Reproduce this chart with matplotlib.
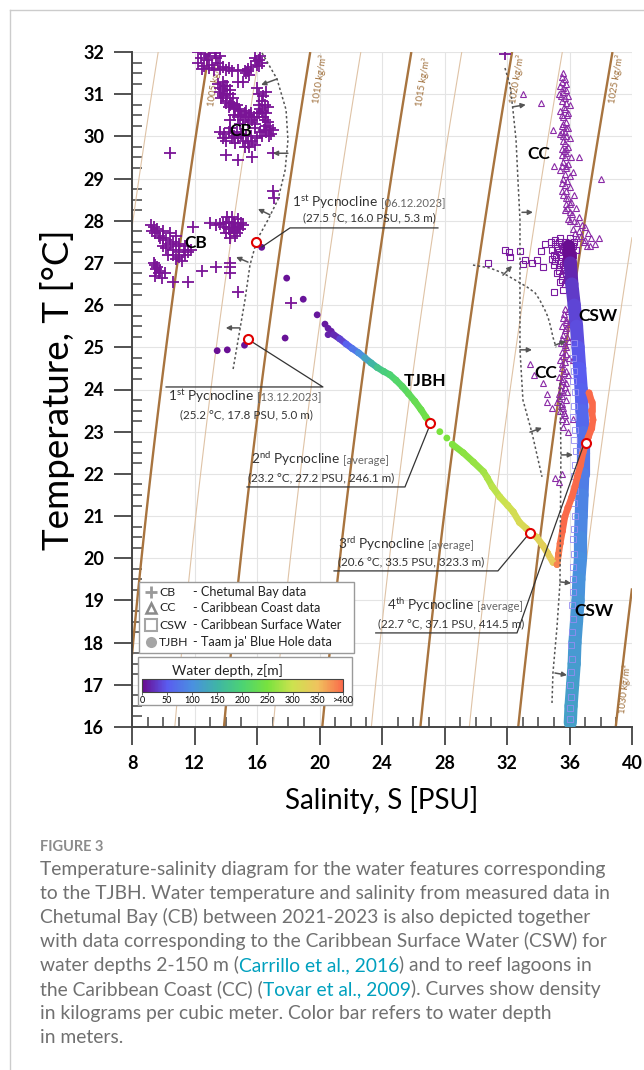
import numpy as np
import matplotlib
matplotlib.use('Agg')
import matplotlib.pyplot as plt
from matplotlib.colors import LinearSegmentedColormap, Normalize
from matplotlib.collections import LineCollection
from matplotlib.lines import Line2D
from matplotlib.patches import Rectangle
from matplotlib.cm import ScalarMappable

plt.rcParams['font.family'] = ['Lato', 'DejaVu Sans']
plt.rcParams['mathtext.fontset'] = 'custom'
plt.rcParams['mathtext.rm'] = 'Lato'
plt.rcParams['mathtext.it'] = 'Lato:italic'
plt.rcParams['mathtext.bf'] = 'Lato:bold'

# ---------------- data (salinity S [PSU], temperature T [degC], depth z [m]) ----------------
cb_upper = np.array([
    (12.2, 32.0), (12.7, 31.95), (13.3, 31.98), (13.6, 31.9), (12.25, 31.75), (12.6, 31.68),
    (12.5, 31.6), (12.9, 31.62), (13.25, 31.58), (13.6, 31.6), (14.0, 31.57), (14.4, 31.55),
    (14.8, 31.58), (15.2, 31.55), (15.4, 31.6), (15.6, 31.65), (15.3, 31.5),
    (15.9, 31.85), (16.1, 31.8), (16.2, 31.9), (16.0, 31.7), (16.3, 31.75),
    (12.4, 31.85), (12.8, 31.8), (13.1, 31.7), (13.5, 31.75), (13.85, 31.65), (14.2, 31.62),
    (12.95, 31.9), (13.4, 31.85), (15.45, 31.55), (15.5, 31.45), (15.95, 31.78), (16.15, 31.68),
    (14.8, 31.3), (15.1, 31.3), (16.0, 31.15),
    (13.5, 31.25), (13.8, 31.3), (14.1, 31.2), (13.6, 31.05), (13.9, 31.1), (14.3, 31.0),
    (13.7, 30.9), (14.0, 30.85), (14.4, 30.8), (14.7, 30.75), (14.2, 30.7), (13.8, 31.0),
    (13.65, 31.15), (13.95, 31.2), (14.25, 31.1), (13.8, 30.95), (14.1, 31.0), (14.45, 30.9),
    (14.0, 30.8), (14.3, 30.75), (14.55, 30.7), (14.85, 30.65),
    (14.6, 30.65), (14.9, 30.6), (15.2, 30.55), (15.5, 30.5), (14.8, 30.45), (15.1, 30.4),
    (15.4, 30.35), (15.7, 30.4), (16.0, 30.45), (15.9, 30.3), (15.3, 30.6),
    (15.0, 30.5), (15.3, 30.45), (15.6, 30.55), (15.8, 30.45), (14.9, 30.3), (14.3, 30.4),
    (14.5, 30.5), (15.85, 30.2),
    (16.3, 30.85), (16.5, 30.75), (16.2, 30.65), (16.6, 30.55), (16.4, 30.45), (16.7, 30.35),
    (16.8, 30.2), (16.6, 30.1), (16.9, 30.05), (17.0, 30.15), (16.4, 30.95),
    (16.1, 30.55), (16.35, 30.6), (16.5, 30.4), (16.6, 30.25), (16.45, 30.15), (16.75, 30.0),
    (16.2, 30.1), (16.1, 30.75), (16.7, 30.7), (16.55, 31.05), (16.1, 31.0),
    (13.6, 30.1), (13.9, 30.05), (14.2, 30.1), (14.5, 30.0), (14.8, 29.95), (15.1, 29.9),
    (15.4, 29.85), (15.7, 29.9), (16.0, 29.95), (16.3, 30.0), (14.0, 29.9), (14.6, 29.85),
    (15.9, 29.8), (14.3, 30.2), (15.0, 30.05), (15.3, 30.0), (15.6, 30.0), (14.7, 30.1),
    (14.4, 29.95), (13.8, 29.95), (15.5, 29.75), (15.2, 29.75),
    (10.4, 29.6), (14.0, 29.55), (14.8, 29.45), (15.7, 29.5), (17.0, 29.6), (17.0, 28.7),
    (17.1, 28.55), (31.9, 31.95),
])
cb_lower = np.array([
    (13.0, 27.95), (13.4, 27.9), (13.8, 27.95), (14.2, 27.98), (14.6, 27.9), (15.0, 27.95),
    (14.4, 28.1), (14.8, 28.05), (14.1, 28.1), (13.9, 27.85), (14.2, 27.8), (14.5, 27.75),
    (14.8, 27.85), (15.1, 27.9), (14.3, 27.6), (14.6, 27.65), (14.0, 27.7),
    (14.0, 27.95), (14.4, 27.85), (14.7, 27.7), (14.9, 27.8), (14.55, 27.95), (13.6, 27.92),
    (14.3, 27.7),
    (9.2, 27.9), (9.6, 27.8), (10.0, 27.75), (10.4, 27.7), (10.8, 27.65), (9.4, 27.85),
    (11.9, 27.85), (9.5, 27.7), (9.8, 27.6), (10.2, 27.55), (10.6, 27.5), (11.0, 27.45),
    (11.4, 27.4), (10.6, 27.3), (11.0, 27.25), (11.4, 27.2), (11.8, 27.3), (10.8, 27.1),
    (11.2, 27.05), (10.0, 27.4), (10.3, 27.2),
    (9.3, 27.75), (9.7, 27.65), (10.0, 27.6), (10.4, 27.45), (10.8, 27.4), (10.2, 27.35),
    (10.6, 27.2), (11.0, 27.15), (11.3, 27.3), (11.6, 27.25),
    (9.4, 27.0), (9.6, 26.9), (9.8, 26.8), (9.5, 26.7), (9.9, 26.65), (10.1, 26.75),
    (9.55, 26.85), (9.7, 26.75), (9.45, 26.95),
    (10.6, 26.55), (11.6, 26.55), (12.5, 26.8), (13.4, 26.9), (14.3, 27.0), (14.3, 26.9),
    (14.3, 26.75), (14.8, 26.3), (18.2, 26.05),
])
cc_upper = np.array([
    (35.6, 31.5), (35.5, 31.4), (35.7, 31.35), (35.4, 31.2), (35.8, 31.25), (35.6, 31.15),
    (35.3, 31.0), (35.6, 31.05), (35.9, 30.95), (35.5, 30.85), (35.8, 30.8), (36.0, 30.75),
    (35.4, 30.6), (35.7, 30.65), (35.9, 30.55), (35.6, 30.45), (35.8, 30.35),
    (35.5, 30.25), (35.9, 30.2), (35.7, 30.1), (35.6, 30.0), (36.0, 29.95), (35.4, 30.05),
    (35.7, 29.85), (35.9, 29.75), (35.5, 29.7), (35.5, 29.55), (35.8, 29.6), (36.1, 29.5),
    (35.6, 29.4), (35.9, 29.35), (35.4, 29.2), (35.8, 29.25), (36.2, 29.15), (35.6, 29.0),
    (36.0, 29.05), (35.7, 28.85), (36.0, 28.8), (35.5, 28.7), (35.6, 28.6), (35.9, 28.55),
    (36.3, 28.6), (35.8, 28.4), (36.1, 28.45), (35.7, 28.25), (36.0, 28.2), (36.4, 28.3),
    (35.9, 28.05), (36.3, 28.0), (36.6, 28.1), (36.8, 27.9), (37.0, 27.85), (36.2, 27.8),
    (36.6, 27.75), (37.2, 27.7), (36.5, 27.6), (37.0, 27.55), (37.4, 27.6), (37.6, 27.45),
    (37.3, 27.4),
    (35.55, 31.3), (35.75, 31.1), (35.45, 30.95), (35.7, 30.9), (35.65, 30.7), (35.5, 30.5),
    (35.85, 30.5), (35.6, 30.3), (35.75, 30.2), (35.5, 30.1), (35.8, 30.0), (35.6, 29.9),
    (35.8, 29.7), (35.65, 29.65), (35.7, 29.5), (35.75, 29.3), (35.55, 29.3), (35.7, 29.1),
    (35.85, 28.95), (35.55, 28.9), (35.8, 28.7), (35.75, 28.55), (36.0, 28.4), (35.85, 28.3),
    (36.15, 28.15), (36.05, 28.0), (36.45, 27.95), (36.35, 27.7), (36.75, 27.65), (36.9, 27.5),
    (37.1, 27.4),
    (33.0, 31.0), (34.2, 30.8), (34.95, 30.15), (38.0, 29.0), (37.9, 27.6), (35.0, 29.3),
    (36.6, 29.5),
])
cc_lower = np.array([
    (35.7, 25.9), (35.9, 25.85), (35.6, 25.7), (35.8, 25.65), (35.5, 25.5), (35.8, 25.45),
    (35.95, 25.55), (35.6, 25.3), (35.85, 25.25), (35.45, 25.1), (35.7, 25.05), (35.95, 25.15),
    (35.55, 24.9), (35.8, 24.85), (35.4, 24.7), (35.7, 24.65), (35.95, 24.75), (35.5, 24.5),
    (35.8, 24.45), (35.35, 24.3), (35.6, 24.25), (35.9, 24.35), (35.45, 24.1), (35.7, 24.05),
    (35.3, 23.9), (35.55, 23.85), (35.85, 23.95), (35.2, 23.7), (35.5, 23.65), (35.75, 23.75),
    (35.4, 23.5), (35.65, 23.45), (35.5, 23.3), (35.8, 23.25), (35.6, 23.1),
    (35.65, 25.8), (35.75, 25.6), (35.7, 25.4), (35.55, 25.2), (35.75, 25.0), (35.6, 24.8),
    (35.5, 24.6), (35.65, 24.4), (35.55, 24.2), (35.8, 24.15), (35.45, 24.0), (35.6, 23.95),
    (35.35, 23.8), (35.45, 23.6), (35.6, 23.55), (35.7, 23.4),
    (33.5, 24.6), (33.7, 24.35), (34.3, 24.15), (34.55, 23.9), (34.55, 23.7), (34.9, 23.55),
    (36.2, 23.3), (35.9, 23.0), (35.1, 21.9), (35.3, 21.8), (35.5, 22.0), (36.3, 18.9),
    (36.5, 18.3), (36.2, 24.7),
])
csw_surface = np.array([
    (30.8, 27.0), (31.9, 27.3), (32.1, 27.26), (32.8, 27.28), (33.0, 26.97), (33.15, 27.07),
    (33.6, 27.0), (33.9, 27.07), (34.2, 27.28), (34.3, 26.9), (32.2, 27.15), (34.4, 27.45),
    (34.8, 27.5), (35.1, 27.55), (35.4, 27.6), (35.7, 27.5), (36.0, 27.6), (36.3, 27.5),
    (34.9, 27.3), (35.2, 27.35), (35.5, 27.4), (35.8, 27.3), (36.1, 27.35), (36.4, 27.3),
    (34.85, 27.1), (35.15, 27.15), (35.45, 27.2), (35.75, 27.1), (36.05, 27.15), (35.0, 26.95),
    (35.3, 26.9), (35.6, 26.95), (35.9, 26.9), (35.2, 26.75), (35.5, 26.7), (35.8, 26.75),
    (35.4, 26.55), (35.7, 26.5), (35.6, 26.35), (35.0, 26.3),
    (35.05, 27.45), (35.35, 27.5), (35.65, 27.4), (35.95, 27.45), (36.2, 27.4), (35.0, 27.2),
    (35.3, 27.25), (35.6, 27.3), (35.9, 27.2), (36.2, 27.2), (35.1, 27.05), (35.4, 27.0),
    (35.7, 27.05), (36.0, 27.0), (35.35, 26.8), (35.65, 26.85), (35.55, 26.6), (35.85, 26.6),
])
csw_t = [27.4, 27.0, 26.5, 26.0, 25.5, 25.0, 24.5, 24.0, 23.5, 23.0, 22.5, 22.0,
         21.5, 21.0, 20.5, 20.0, 19.5, 19.0, 18.5, 18.0, 17.5, 17.0, 16.5, 16.1]
csw_s = [35.95, 36.05, 36.15, 36.3, 36.45, 36.55, 36.65, 36.75, 36.8, 36.85, 36.85, 36.85,
         36.8, 36.75, 36.7, 36.7, 36.6, 36.55, 36.45, 36.35, 36.3, 36.2, 36.1, 36.05]
csw_z = [3, 18, 30, 37, 42, 47, 51, 55, 62, 70, 76, 82,
         88, 92, 96, 100, 104, 108, 111, 114, 117, 119, 121, 123]
csw_edge = np.array([
    (36.3, 25.1), (36.25, 24.75), (36.3, 24.45), (36.2, 24.2), (36.35, 23.95), (36.3, 23.6),
    (36.25, 23.35), (36.35, 23.05), (36.3, 22.8), (36.4, 22.55), (36.35, 22.2), (36.3, 21.95),
    (36.35, 21.6), (36.3, 21.3), (36.35, 21.0), (36.3, 20.7), (36.25, 20.45), (36.3, 20.1),
    (36.25, 19.8), (36.2, 19.5), (36.25, 19.2), (36.15, 18.9), (36.2, 18.55), (36.15, 18.25),
    (36.1, 17.95), (36.15, 17.6), (36.1, 17.3), (36.05, 17.0), (36.1, 16.7), (36.0, 16.45),
    (36.05, 16.2),
])

tjbh_surface = np.array([
    (16.3, 27.37, 5), (17.9, 26.64, 6), (18.96, 26.14, 7), (19.85, 25.77, 8), (20.35, 25.55, 10),
    (20.55, 25.45, 12), (20.75, 25.38, 14), (20.55, 25.3, 15), (17.8, 25.22, 5), (15.2, 25.05, 5),
    (14.1, 24.94, 4), (13.45, 24.92, 4),
])
tjbh_track1 = np.array([
    (20.9, 25.3, 20), (21.3, 25.2, 35), (21.7, 25.08, 55), (22.1, 24.97, 75), (22.5, 24.87, 100),
    (22.9, 24.75, 125), (23.3, 24.63, 150), (23.7, 24.52, 175), (24.1, 24.43, 190),
    (24.5, 24.35, 200), (24.9, 24.22, 208), (25.3, 24.07, 215), (25.7, 23.9, 222),
    (26.1, 23.72, 230), (26.5, 23.52, 237), (26.8, 23.35, 242), (27.1, 23.2, 246),
])
tjbh_gap = np.array([(27.7, 23.0, 250), (28.15, 22.85, 252)])
tjbh_track2 = np.array([
    (28.5, 22.7, 256), (29.2, 22.5, 262), (29.85, 22.28, 268), (30.5, 22.05, 275),
    (30.75, 21.9, 282), (31.05, 21.7, 290), (31.55, 21.45, 297), (32.05, 21.25, 303),
    (32.4, 21.1, 308), (32.8, 20.85, 315), (33.25, 20.7, 320), (33.5, 20.6, 323),
    (33.9, 20.5, 326), (34.3, 20.3, 330), (34.6, 20.12, 333), (34.95, 19.9, 338),
])
tjbh_deep = np.array([
    (35.2, 19.85, 385), (35.3, 20.1, 390), (35.4, 20.35, 395), (35.55, 20.65, 400),
    (35.7, 20.98, 404), (35.9, 21.2, 407), (36.15, 21.45, 410), (36.35, 21.7, 411),
    (36.5, 21.93, 412), (36.7, 22.2, 413), (36.86, 22.5, 414), (37.06, 22.73, 414.5),
    (37.2, 22.87, 418), (37.42, 23.08, 420), (37.5, 23.28, 424), (37.42, 23.5, 428),
    (37.42, 23.71, 432), (37.25, 23.92, 436),
])
pycnoclines = np.array([(15.94, 27.5), (15.4, 25.2), (27.1, 23.2), (33.5, 20.6), (37.06, 22.73)])

thick_levels = [1005, 1010, 1015, 1020, 1025, 1030]
thin_levels = [1002.5, 1007.5, 1012.5, 1017.5, 1022.5, 1027.5]
iso_label_levels = [1005, 1010, 1015, 1020, 1025, 1030]
iso_label_s = [13.3, 20.05, 26.6, 32.65, 39.0, 39.55]
iso_label_t = [31.3, 31.35, 31.3, 31.35, 31.35, 16.9]
SAL_SCALE = 1.04   # salinity scaling that matches the drawn isopycnals

depth_stops = [0, 50, 100, 150, 200, 250, 300, 350, 400]
depth_colors = ['#6a0a8e', '#5a5cf0', '#4a90e0', '#3fb5a5', '#4cd373',
                '#78e23e', '#cde24f', '#f0c35e', '#fa6a4a']
depth_ticks = [0, 50, 100, 150, 200, 250, 300, 350, 400]
depth_ticklabels = ['0', '50', '100', '150', '200', '250', '300', '350', '>400']

# dotted guide curves and their arrows (S, T)
arc_cb = [(16.32, 31.98), (17.28, 31.36), (17.86, 30.63), (17.98, 29.91), (17.8, 29.2),
          (17.34, 28.5), (16.7, 28.02), (16.0, 27.55), (15.55, 26.95), (15.23, 26.12),
          (14.9, 25.41), (14.46, 24.46)]
arc_cc = [(31.87, 31.62), (32.19, 31.22), (32.38, 30.63), (32.58, 29.91), (32.7, 28.97),
          (32.83, 28.02), (32.83, 27.07), (32.83, 26.12), (32.83, 24.94), (33.02, 23.75),
          (33.6, 22.97), (34.24, 21.93)]
arc_csw = [(29.82, 26.95), (30.91, 26.88), (31.74, 26.76), (32.5, 26.6), (33.28, 26.43),
           (33.8, 26.29), (34.1, 26.12), (34.43, 25.88), (34.62, 25.72), (34.8, 25.48),
           (34.94, 25.24), (35.14, 25.0)]
arc_deep = [(35.39, 24.15), (35.45, 22.5), (35.39, 19.41), (35.2, 18.37), (34.94, 17.28),
            (34.88, 16.57)]
arrows = [((17.28, 31.36), (16.26, 31.22)), ((17.98, 29.6), (17.02, 29.6)),
          ((16.83, 28.14), (16.06, 28.28)), ((15.42, 27.02), (14.66, 27.14)),
          ((14.9, 25.46), (14.0, 25.46)),
          ((32.38, 30.7), (33.2, 30.75)), ((32.96, 28.2), (33.66, 28.2)),
          ((32.83, 24.94), (33.6, 24.94)), ((33.47, 22.99), (34.24, 23.09)),
          ((31.74, 26.71), (32.32, 26.93)), ((35.07, 25.05), (35.78, 25.15)),
          ((35.47, 22.45), (36.22, 22.45)), ((35.39, 19.44), (36.1, 19.41)),
          ((35.07, 17.28), (35.84, 17.23))]

# annotation leader lines and texts
leaders = [[(16.32, 27.38), (18.11, 27.83), (27.58, 27.83)],
           [(15.68, 25.13), (20.22, 24.06), (10.18, 24.06)],
           [(27.07, 23.16), (25.47, 21.69), (15.36, 21.69)],
           [(33.34, 20.55), (31.42, 19.7), (20.93, 19.7)],
           [(36.86, 22.64), (32.64, 18.23), (23.6, 18.23)]]
ann_ord = ['st', 'st', 'nd', 'rd', 'th']
ann_num = ['1', '1', '2', '3', '4']
ann_tag = ['[06.12.2023]', '[13.12.2023]', '[average]', '[average]', '[average]']
ann_val = ['(27.5 °C, 16.0 PSU, 5.3 m)', '(25.2 °C, 17.8 PSU, 5.0 m)',
           '(23.2 °C, 27.2 PSU, 246.1 m)', '(20.6 °C, 33.5 PSU, 323.3 m)',
           '(22.7 °C, 37.1 PSU, 414.5 m)']
ann_pos1 = [(18.24, 28.42), (10.3, 23.82), (15.62, 22.33), (21.18, 20.31), (24.32, 18.87)]
ann_pos2 = [(18.94, 28.07), (11.07, 23.4), (15.42, 21.9), (21.18, 19.91), (23.74, 18.44)]

group_labels = ['CB', 'CB', 'CC', 'CSW', 'CC', 'TJBH', 'CSW']
group_s = [14.98, 12.1, 34.05, 37.82, 34.5, 26.75, 37.57]
group_t = [30.13, 27.47, 29.58, 25.74, 24.39, 24.2, 18.75]

legend_abbr = ['CB', 'CC', 'CSW', 'TJBH']
legend_desc = ['- Chetumal Bay data', '- Caribbean Coast data',
               '- Caribbean Surface Water', "- Taam ja' Blue Hole data"]

caption = [
    [('Temperature-salinity diagram for the water features corresponding', 0)],
    [('to the TJBH. Water temperature and salinity from measured data in', 0)],
    [('Chetumal Bay (CB) between 2021-2023 is also depicted together', 0)],
    [('with data corresponding to the Caribbean Surface Water (CSW) for', 0)],
    [('water depths 2-150 m (', 0), ('Carrillo et al., 2016', 1), (') and to reef lagoons in', 0)],
    [('the Caribbean Coast (CC) (', 0), ('Tovar et al., 2009', 1), ('). Curves show density', 0)],
    [('in kilograms per cubic meter. Color bar refers to water depth', 0)],
    [('in meters.', 0)],
]


def rho_eos80(S, T):
    rw = (999.842594 + 6.793952e-2 * T - 9.095290e-3 * T**2 + 1.001685e-4 * T**3
          - 1.120083e-6 * T**4 + 6.536332e-9 * T**5)
    A = 8.24493e-1 - 4.0899e-3 * T + 7.6438e-5 * T**2 - 8.2467e-7 * T**3 + 5.3875e-9 * T**4
    B = -5.72466e-3 + 1.0227e-4 * T - 1.6546e-6 * T**2
    return rw + A * S + B * S**1.5 + 4.8314e-4 * S**2


W, H = 644, 1070
fig = plt.figure(figsize=(W / 100, H / 100), dpi=100)
ax = fig.add_axes([132 / W, 1 - 727 / H, 500 / W, 675 / H])
ax.set_xlim(8, 40)
ax.set_ylim(16, 32)

cmap = LinearSegmentedColormap.from_list(
    'depth', [(v / 400, c) for v, c in zip(depth_stops, depth_colors)])
norm = Normalize(0, 400)
purple = '#7a1496'

# isopycnals
Sg, Tg = np.meshgrid(np.linspace(8, 40, 400), np.linspace(16, 32, 400))
rho = rho_eos80(SAL_SCALE * Sg, Tg)
ax.contour(Sg, Tg, rho, levels=thin_levels, colors='#dfc3a6', linewidths=0.8, zorder=1)
ax.contour(Sg, Tg, rho, levels=thick_levels, colors='#a8743f', linewidths=1.7, zorder=1)
for lev, s, t in zip(iso_label_levels, iso_label_s, iso_label_t):
    d = 0.01
    rs = (rho_eos80(SAL_SCALE * (s + d), t) - rho_eos80(SAL_SCALE * (s - d), t)) / (2 * d)
    rt = (rho_eos80(SAL_SCALE * s, t + d) - rho_eos80(SAL_SCALE * s, t - d)) / (2 * d)
    ang = np.degrees(np.arctan2(rs, -rt))
    ax.text(s, t, f'{lev} kg/m³', rotation=ang, transform_rotates_text=True,
            rotation_mode='anchor', ha='center', va='center', fontsize=6.8,
            color='#a0703c', zorder=2)

# Chetumal Bay, Caribbean Coast, Caribbean Surface Water
cb = np.vstack([cb_upper, cb_lower])
ax.plot(cb[:, 0], cb[:, 1], '+', color=purple, ms=8, mew=1.3, ls='none', zorder=3)
cc = np.vstack([cc_upper, cc_lower])
ax.plot(cc[:, 0], cc[:, 1], '^', mfc='none', mec='#8a2aa6', ms=4.6, mew=0.8, ls='none', zorder=3)
ax.plot(csw_surface[:, 0], csw_surface[:, 1], 's', mfc='none', mec='#7a1aa0', ms=4.5,
        mew=0.8, ls='none', zorder=3)
pts = np.column_stack([csw_s, csw_t])
band = LineCollection(np.stack([pts[:-1], pts[1:]], axis=1), cmap=cmap, norm=norm,
                      linewidths=9.5, capstyle='round', zorder=3)
band.set_array(np.array(csw_z[:-1]))
ax.add_collection(band)
ax.plot(csw_edge[:, 0], csw_edge[:, 1], 's', mfc='none', mec='#958cf2', ms=4.0, mew=0.6,
        ls='none', zorder=3)

# Taam ja' Blue Hole profile
for track in (tjbh_track1, tjbh_track2, tjbh_deep):
    lc = LineCollection(np.stack([track[:-1, :2], track[1:, :2]], axis=1), cmap=cmap,
                        norm=norm, linewidths=4.8, capstyle='round', zorder=4)
    lc.set_array(track[:-1, 2])
    ax.add_collection(lc)
tjbh = np.vstack([tjbh_surface, tjbh_track1, tjbh_gap, tjbh_track2, tjbh_deep])
ax.scatter(tjbh[:, 0], tjbh[:, 1], c=tjbh[:, 2], cmap=cmap, norm=norm, s=24,
           edgecolors='none', zorder=4)

# dotted guides
for arc in (arc_cb, arc_cc, arc_csw, arc_deep):
    a = np.array(arc)
    ax.plot(a[:, 0], a[:, 1], ls=(0, (1.6, 1.6)), color='#555555', lw=1.1, zorder=5)
for start, end in arrows:
    ax.annotate('', xy=end, xytext=start,
                arrowprops=dict(arrowstyle='-|>', color='#555555', lw=1.1,
                                mutation_scale=7, shrinkA=0, shrinkB=0), zorder=5)

# leaders and pycnocline markers
for ld in leaders:
    a = np.array(ld)
    ax.plot(a[:, 0], a[:, 1], color='#333333', lw=0.9, zorder=6)
ax.plot(pycnoclines[:, 0], pycnoclines[:, 1], 'o', mfc='white', mec='#e00000', ms=6.5,
        mew=1.5, ls='none', zorder=7)

for lab, s, t in zip(group_labels, group_s, group_t):
    ax.text(s, t, lab, ha='center', va='center', fontsize=12.5, fontweight='bold',
            color='black', zorder=8)

# axes styling
ax.set_xticks(np.arange(8, 41, 4))
ax.set_yticks(np.arange(16, 33, 1))
ax.set_xticks(np.arange(8, 41, 1), minor=True)
ax.set_yticks(np.arange(16, 32.01, 0.25), minor=True)
ax.grid(True, which='major', color='#e4e4e4', lw=0.8, zorder=0)
ax.set_axisbelow(True)
for side in ('top', 'right'):
    ax.spines[side].set_visible(False)
for side in ('left', 'bottom'):
    ax.spines[side].set_color('#444444')
    ax.spines[side].set_linewidth(1.4)
ax.tick_params(which='major', direction='out', length=13, width=1.3, color='#444444',
               labelsize=13, pad=7)
ax.tick_params(which='minor', direction='in', length=7, width=1.1, color='#444444')
for lb in ax.get_xticklabels() + ax.get_yticklabels():
    lb.set_fontweight('bold')

fig.text(58 / W, 1 - 390 / H, 'Temperature, T [°C]', rotation=90, fontsize=26.5,
         ha='center', va='center')
fig.text(382 / W, 1 - 800 / H, 'Salinity, S [PSU]', fontsize=20, ha='center', va='center')

# legend box
ax.add_patch(Rectangle((0.014, 0.1096), 0.43, 0.1052, transform=ax.transAxes,
                       fc='white', ec='#9a9a9a', lw=1, zorder=20))
rows = [0.2, 0.1763, 0.1511, 0.1259]
mk = [dict(marker='+', ms=9, mew=2.0, color='#9a9a9a'),
      dict(marker='^', ms=6.5, mew=1.8, mfc='none', mec='#8a8a8a'),
      dict(marker='s', ms=8, mew=1.5, mfc='none', mec='#a5a5a5'),
      dict(marker='o', ms=8, mew=0, color='#a5a5a5')]
for fy, m, ab, de in zip(rows, mk, legend_abbr, legend_desc):
    ax.plot([0.038], [fy], transform=ax.transAxes, ls='none', zorder=21, clip_on=False, **m)
    ax.text(0.054, fy, ab, transform=ax.transAxes, fontsize=8.8, va='center', color='#222222',
            zorder=21)
    ax.text(0.122, fy, de, transform=ax.transAxes, fontsize=9.1, va='center', color='#222222',
            zorder=21)

# colour bar box
ax.add_patch(Rectangle((0.012, 0.0326), 0.428, 0.0711, transform=ax.transAxes,
                       fc='white', ec='#9a9a9a', lw=1, zorder=20))
ax.text(0.19, 0.083, 'Water depth, z[m]', transform=ax.transAxes, fontsize=10, ha='center',
        va='center', color='#222222', zorder=21)
cax = ax.inset_axes([0.02, 0.0519, 0.402, 0.0192], zorder=22)
cb_bar = fig.colorbar(ScalarMappable(norm=norm, cmap=cmap), cax=cax, orientation='horizontal',
                      ticks=depth_ticks)
cb_bar.ax.set_xticklabels(depth_ticklabels)
cb_bar.ax.tick_params(labelsize=6.5, length=2, width=0.6, pad=1, color='#444444')
cb_bar.outline.set_linewidth(0.8)
cb_bar.outline.set_edgecolor('#444444')

# annotation texts (mixed sizes on one line)
renderer = fig.canvas.get_renderer()


def text_run(xd, yd, parts):
    for s, size, color in parts:
        t = fig.text(xd / W, yd / H, s, fontsize=size, color=color, ha='left',
                     va='baseline', zorder=30)
        xd = t.get_window_extent(renderer).x1
    return xd


for num, od, tag, val, p1, p2 in zip(ann_num, ann_ord, ann_tag, ann_val, ann_pos1, ann_pos2):
    x1, y1 = ax.transData.transform(p1)
    x = text_run(x1, y1 - 4, [(num + r'$^{\mathrm{' + od + '}}$' + ' Pycnocline', 9.8, '#333333')])
    text_run(x + 3, y1 - 4, [(tag, 8.1, '#666666')])
    x2, y2 = ax.transData.transform(p2)
    text_run(x2, y2 - 3.5, [(val, 8.4, '#333333')])

# caption
fig.text(40 / W, 1 - 847 / H, 'FIGURE 3', fontsize=10.5, fontweight='bold', color='#8c8c8c',
         ha='left', va='center')
for i, line in enumerate(caption):
    yd = H - (870 + 24 * i) - 5
    text_run(40, yd, [(s, 13.85, '#707070' if not link else '#00a0be') for s, link in line])

fig.add_artist(Line2D([10 / W, 1], [1 - 10 / H, 1 - 10 / H], transform=fig.transFigure,
                      color='#cccccc', lw=1))
fig.add_artist(Line2D([10 / W, 10 / W], [0, 1 - 10 / H], transform=fig.transFigure,
                      color='#cccccc', lw=1))

fig.savefig('out.png', dpi=100)
